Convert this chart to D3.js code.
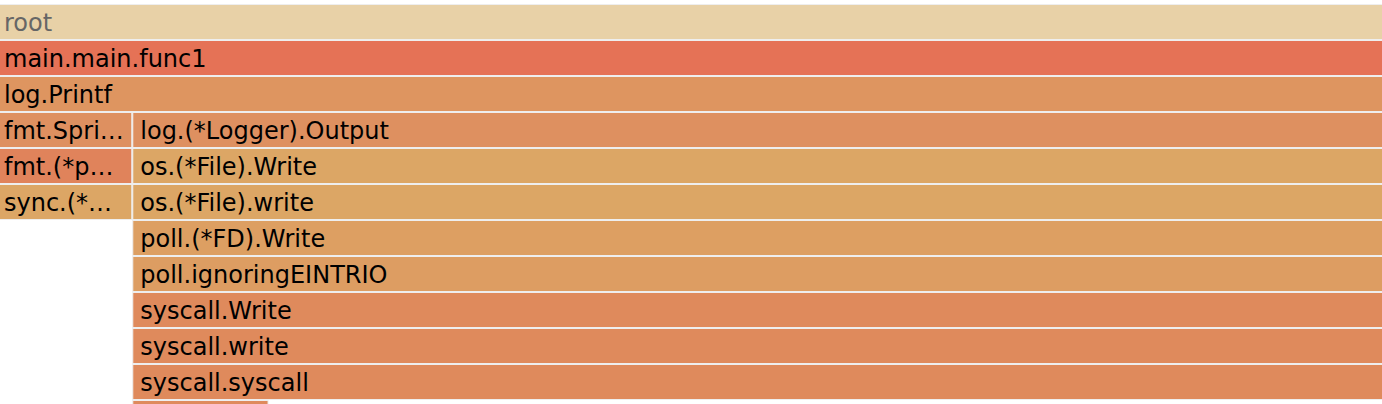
<!DOCTYPE html>
<meta charset="utf-8">
<style>
body { margin: 0; background: #fff; }
text { font-family: "DejaVu Sans", Verdana, sans-serif; font-size: 24px; }
</style>
<svg id="flame" width="1382" height="404"></svg>
<script src="https://d3js.org/d3.v7.min.js"></script>
<script>

// frames: name, parent index, self samples, fill colour
var names = [
	"root",
	"main.main.func1",
	"log.Printf",
	"fmt.Sprintf",
	"fmt.(*pp).doPrintf",
	"sync.(*Pool).Get",
	"log.(*Logger).Output",
	"os.(*File).Write",
	"os.(*File).write",
	"poll.(*FD).Write",
	"poll.ignoringEINTRIO",
	"syscall.Write",
	"syscall.write",
	"syscall.syscall",
	"runtime.exitsyscall"
];
var parents = [-1, 0, 1, 2, 3, 4, 2, 6, 7, 8, 9, 10, 11, 12, 13];
var selfValues = [0, 0, 0, 0, 0, 10, 0, 0, 0, 0, 0, 0, 0, 82, 10];
var colors = [
	"#e8d1a7", "#e57256", "#de9560", "#de9060", "#e0835b", "#dca665",
	"#de9060", "#dca665", "#dca665", "#dd9f62", "#dd9d62", "#df8a5c",
	"#df8a5c", "#df8a5c", "#df8a5c"
];

var svg = d3.select("svg#flame"),
	height = +svg.attr("height"),
	rowH = 36,
	topY = 4,
	pad = 8;

var rows = names.map(function(n, i) {
	return { id: i, parent: parents[i] < 0 ? null : parents[i], name: n, value: selfValues[i], color: colors[i] };
});

var root = d3.stratify()
	.id(function(d) { return d.id; })
	.parentId(function(d) { return d.parent; })(rows);

root.sum(function(d) { return d.value; });
d3.partition().size([1, 1])(root);

var x = d3.scaleLinear().domain([0, 1]).range([-4, 1386]);

var frame = svg.selectAll("g.frame")
	.data(root.descendants())
	.enter().append("g")
		.attr("class", "frame")
		.attr("transform", function(d) { return "translate(" + x(d.x0) + "," + (topY + d.depth * rowH) + ")"; });

frame.append("rect")
	.attr("x", 0.5)
	.attr("y", 0.5)
	.attr("width", function(d) { return x(d.x1) - x(d.x0) - 1; })
	.attr("height", rowH - 1)
	.attr("fill", function(d) { return d.data.color; })
	.attr("stroke", "#eeeeee")
	.attr("stroke-width", 1);

// only label rows that are inside the view
frame.filter(function(d) { return topY + (d.depth + 1) * rowH <= height + 4; })
	.append("text")
	.attr("x", pad)
	.attr("y", 26.5)
	.attr("fill", function(d) { return d.depth === 0 ? "#666" : "#000"; })
	.text(function(d) { return d.data.name; })
	.each(function(d) {
		var t = d3.select(this),
			avail = x(d.x1) - x(d.x0) - pad * 2,
			s = d.data.name;
		if (this.getComputedTextLength() <= avail) return;
		while (s.length > 0) {
			s = s.slice(0, -1);
			t.text(s + "\u2026");
			if (this.getComputedTextLength() <= avail) break;
		}
	});

</script>
